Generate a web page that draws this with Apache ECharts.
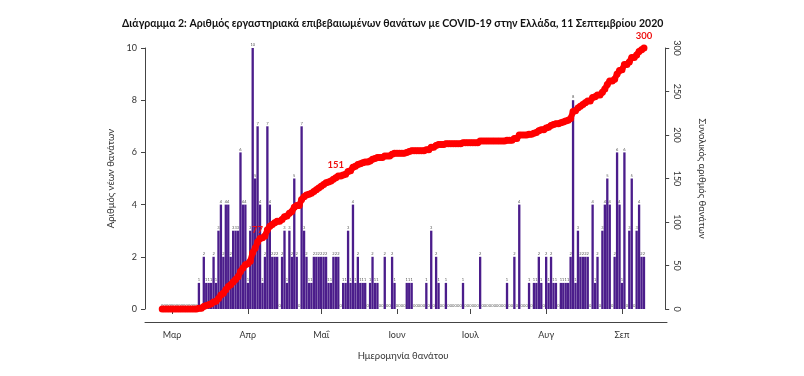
<!DOCTYPE html>
<html>
<head>
<meta charset="utf-8">
<script src="https://cdn.jsdelivr.net/npm/echarts@6/dist/echarts.min.js"></script>
<style>
html, body { margin: 0; padding: 0; background: #fff; }
#chart { width: 804px; height: 376px; }
</style>
</head>
<body>
<div id="chart"></div>
<script>
// new deaths per day by date of death, from 26 Feb 2020
const startDate = '2020-02-26';
const febDeaths = [0, 0, 0, 0];
const marDeaths = [0, 0, 0, 0, 0, 0, 0, 0, 0, 0, 0,
    1, 0, 2, 1, 1, 1, 2, 1, 3, 4, 2, 4, 4, 2, 3, 3, 3, 6, 4, 4];
const aprDeaths = [1, 3, 10, 5, 7, 4, 1, 2, 7, 4, 2, 2, 2, 0, 2,
    3, 1, 3, 2, 5, 2, 0, 7, 3, 2, 1, 1, 2, 2, 2];
const mayDeaths = [2, 2, 2, 1, 1, 2, 2, 2, 0, 1, 1, 3, 1, 4, 1, 2,
    1, 1, 1, 0, 1, 2, 1, 1, 0, 0, 2, 0, 0, 2, 1];
const junDeaths = [0, 0, 0, 0, 1, 1, 1, 0, 0, 0, 0, 0, 1, 0, 3,
    0, 2, 1, 0, 0, 1, 0, 0, 0, 0, 0, 0, 1, 0, 0];
const julDeaths = [0, 0, 0, 0, 2, 0, 0, 0, 0, 0, 0, 0, 0, 0, 0, 1,
    0, 0, 2, 0, 4, 0, 0, 0, 1, 0, 1, 1, 2, 1, 0];
const augDeaths = [2, 1, 2, 1, 1, 0, 1, 1, 1, 1, 2, 8, 1, 3, 2, 2,
    2, 2, 0, 4, 1, 2, 0, 3, 4, 5, 4, 0, 2, 6, 4];
const sepDeaths = [1, 6, 0, 3, 5, 0, 3, 4, 2, 2];

// red labels written on the cumulative line
const markedTotals = [77, 151, 300];

const monthNames = {
    '03': 'Μαρ', '04': 'Απρ', '05': 'Μαΐ', '06': 'Ιουν',
    '07': 'Ιουλ', '08': 'Αυγ', '09': 'Σεπ'
};

const newDeaths = [].concat(febDeaths, marDeaths, aprDeaths, mayDeaths,
    junDeaths, julDeaths, augDeaths, sepDeaths);

// one category per day
const dates = [];
let d = new Date(startDate + 'T00:00:00Z');
for (let i = 0; i < newDeaths.length; i++) {
    dates.push(d.toISOString().slice(0, 10));
    d = new Date(d.getTime() + 86400000);
}

// running total of the daily counts
const totalDeaths = [];
let sum = 0;
newDeaths.forEach(v => { sum += v; totalDeaths.push(sum); });

const labelled = new Set();
const totalItems = totalDeaths.map(v => {
    if (markedTotals.includes(v) && !labelled.has(v)) {
        labelled.add(v);
        return {
            value: v,
            label: {
                show: true, position: 'top', distance: 4, formatter: '{c}',
                color: '#ee1111', fontSize: 9.5, fontWeight: 'bold',
                fontFamily: 'Lato'
            }
        };
    }
    return v;
});

const isMonthStart = (i) => dates[i].slice(8) === '01';
const font = 'Lato';
const axisGrey = '#444';

const chart = echarts.init(document.getElementById('chart'));

chart.setOption({
    animation: false,
    backgroundColor: '#fff',
    title: {
        text: 'Διάγραμμα 2: Αριθμός εργαστηριακά επιβεβαιωμένων θανάτων με COVID-19 στην Ελλάδα, 11 Σεπτεμβρίου 2020',
        left: 117, top: 13,
        textStyle: { fontFamily: font, fontSize: 10.5, fontWeight: 'bold', color: '#111' }
    },
    grid: [
        { left: 161, right: 158.8, top: 48, bottom: 67 },
        { left: 145, right: 137, top: 48, bottom: 54 }
    ],
    xAxis: [
        {
            type: 'category', data: dates, gridIndex: 0, offset: 13,
            axisLine: { show: false },
            axisTick: { show: true, interval: isMonthStart, alignWithLabel: true, length: 5, lineStyle: { color: axisGrey } },
            axisLabel: {
                interval: isMonthStart, margin: 9, fontSize: 9, color: '#333', fontFamily: font,
                formatter: v => monthNames[v.slice(5, 7)] || ''
            },
            name: 'Ημερομηνία θανάτου', nameLocation: 'middle', nameGap: 29,
            nameTextStyle: { fontSize: 9.5, color: '#333', fontFamily: font }
        },
        {
            type: 'value', gridIndex: 1,
            axisLine: { show: true, onZero: false, lineStyle: { color: axisGrey } },
            axisTick: { show: false }, axisLabel: { show: false }, splitLine: { show: false }
        }
    ],
    yAxis: [
        {
            type: 'value', min: 0, max: 10, interval: 2, position: 'left', offset: 16,
            axisLine: { show: true, lineStyle: { color: axisGrey } },
            axisTick: { show: true, length: 4, lineStyle: { color: axisGrey } },
            axisLabel: { margin: 8, fontSize: 9, color: '#333', fontFamily: font },
            splitLine: { show: false },
            name: 'Αριθμός νέων θανάτων', nameLocation: 'middle', nameGap: 27,
            nameTextStyle: { fontSize: 9.5, color: '#333', fontFamily: font }
        },
        {
            type: 'value', min: 0, max: 300, interval: 50, position: 'right', offset: 20,
            axisLine: { show: true, lineStyle: { color: axisGrey } },
            axisTick: { show: true, length: 4, lineStyle: { color: axisGrey } },
            axisLabel: { margin: 7, rotate: -90, fontSize: 9, color: '#333', fontFamily: font },
            splitLine: { show: false },
            name: 'Συνολικός αριθμός θανάτων', nameLocation: 'middle', nameGap: 32, nameRotate: -90,
            nameTextStyle: { fontSize: 9.5, color: '#333', fontFamily: font }
        },
        { type: 'value', gridIndex: 1, show: false }
    ],
    series: [
        {
            name: 'Νέοι θάνατοι', type: 'bar', data: newDeaths,
            xAxisIndex: 0, yAxisIndex: 0,
            barCategoryGap: '5%',
            itemStyle: { color: '#4b1d8b' },
            label: { show: true, position: 'top', distance: 1, fontSize: 4, color: '#555', fontFamily: font }
        },
        {
            name: 'Συνολικοί θάνατοι', type: 'line', data: totalItems,
            xAxisIndex: 0, yAxisIndex: 1, z: 5,
            symbol: 'circle', symbolSize: 7, showAllSymbol: true,
            lineStyle: { color: '#ff0000', width: 6 },
            itemStyle: { color: '#ff0000' }
        }
    ]
});
</script>
</body>
</html>
